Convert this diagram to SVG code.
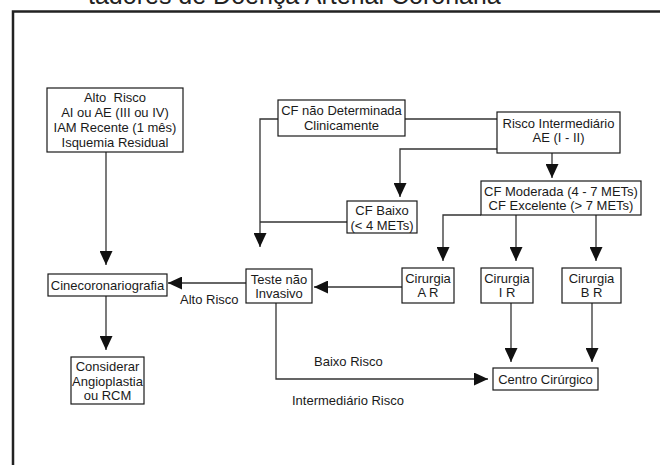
<svg xmlns="http://www.w3.org/2000/svg" width="660" height="465" viewBox="0 0 660 465">
<defs>
<style>
.box{fill:#fff;stroke:#1a1a1a;stroke-width:1.2}
.t{font-family:"Liberation Sans",Arial,sans-serif;font-size:13px;fill:#1a1a1a;text-anchor:middle}
.l{font-family:"Liberation Sans",Arial,sans-serif;font-size:13px;fill:#1a1a1a}
.c{fill:none;stroke:#333;stroke-width:1.3;marker-end:url(#ah)}
.cn{fill:none;stroke:#333;stroke-width:1.3}
</style>
<marker id="ah" viewBox="0 0 14 13" refX="14" refY="6.5" markerWidth="14" markerHeight="13" orient="auto" markerUnits="userSpaceOnUse">
<path d="M0,0 L14,6.5 L0,13 z" fill="#111"/>
</marker>
</defs>
<rect width="660" height="465" fill="#fff"/>
<text x="88" y="4" style="font-family:'Liberation Sans',Arial,sans-serif;font-size:25px;fill:#222">tadores de Doença Arterial Coronária</text>
<path d="M13,465 V11.5 H660" fill="none" stroke="#222" stroke-width="2.5"/>

<g id="connectors">
<path class="c" d="M106,152 V265"/>
<path class="c" d="M106,296 V350"/>
<path class="c" d="M278,119 H260 V247"/>
<path class="cn" d="M347,222 H260"/>
<path class="cn" d="M405,119 H497"/>
<path class="c" d="M497,149 H400 V197"/>
<path class="c" d="M552,153 V178"/>
<path class="c" d="M481,215 H443 V261"/>
<path class="c" d="M516,215 V261"/>
<path class="c" d="M596,215 V261"/>
<path class="c" d="M402,287 H314"/>
<path class="c" d="M246,283 H168"/>
<path class="c" d="M276,303 V379 H488"/>
<path class="c" d="M511,303 V362"/>
<path class="c" d="M592,303 V362"/>
</g>

<g id="alto-risco">
<rect class="box" x="47" y="88" width="136" height="64"/>
<text class="t" x="115" y="101.5" xml:space="preserve">Alto  Risco</text>
<text class="t" x="115" y="117">AI ou AE (III ou IV)</text>
<text class="t" x="115" y="132">IAM Recente (1 mês)</text>
<text class="t" x="115" y="146.5">Isquemia Residual</text>
</g>

<g id="cf-nao-determinada">
<rect class="box" x="278" y="100" width="127" height="36"/>
<text class="t" x="341.5" y="115">CF não Determinada</text>
<text class="t" x="341.5" y="129.5">Clinicamente</text>
</g>

<g id="risco-intermediario">
<rect class="box" x="497" y="112" width="123" height="41"/>
<text class="t" x="558.5" y="128">Risco Intermediário</text>
<text class="t" x="558.5" y="142">AE (I - II)</text>
</g>

<g id="cf-baixo">
<rect class="box" x="347" y="201" width="70" height="32"/>
<text class="t" x="382" y="215">CF Baixo</text>
<text class="t" x="382" y="229.5">(&lt; 4 METs)</text>
</g>

<g id="cf-moderada">
<rect class="box" x="481" y="181" width="160" height="34"/>
<text class="t" x="561" y="196">CF Moderada (4 - 7 METs)</text>
<text class="t" x="561" y="209.5">CF Excelente (&gt; 7 METs)</text>
</g>

<g id="cirurgia-ar">
<rect class="box" x="402" y="268" width="52" height="35"/>
<text class="t" x="428" y="282.5">Cirurgia</text>
<text class="t" x="428" y="296.5">A R</text>
</g>

<g id="cirurgia-ir">
<rect class="box" x="481" y="268" width="52" height="35"/>
<text class="t" x="507" y="282.5">Cirurgia</text>
<text class="t" x="507" y="296.5">I R</text>
</g>

<g id="cirurgia-br">
<rect class="box" x="562" y="268" width="59" height="35"/>
<text class="t" x="591.5" y="282.5">Cirurgia</text>
<text class="t" x="591.5" y="296.5">B R</text>
</g>

<g id="teste">
<rect class="box" x="246" y="269" width="66" height="34"/>
<text class="t" x="279" y="283.5">Teste não</text>
<text class="t" x="279" y="297.5">Invasivo</text>
</g>

<g id="cinecoronariografia">
<rect class="box" x="48" y="274" width="119" height="22"/>
<text class="t" x="107.5" y="289.5">Cinecoronariografia</text>
</g>

<g id="considerar">
<rect class="box" x="71" y="357" width="73" height="47"/>
<text class="t" x="107.5" y="370.5">Considerar</text>
<text class="t" x="107.5" y="385.5">Angioplastia</text>
<text class="t" x="107.5" y="399.5">ou RCM</text>
</g>

<g id="centro-cirurgico">
<rect class="box" x="493" y="368" width="105" height="22"/>
<text class="t" x="545.5" y="383.5">Centro Cirúrgico</text>
</g>

<text class="l" x="180" y="303.5">Alto Risco</text>
<text class="l" x="314" y="366">Baixo Risco</text>
<text class="l" x="292" y="405">Intermediário Risco</text>
</svg>
